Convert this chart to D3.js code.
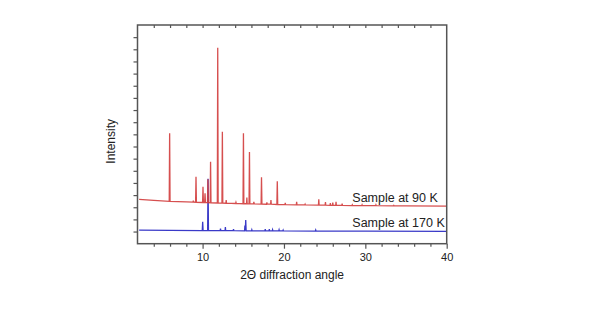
<!DOCTYPE html>
<html>
<head>
<meta charset="utf-8">
<script src="https://cdn.jsdelivr.net/npm/d3@7"></script>
<style>
	body { margin: 0; background: #fff; }
	svg text { font-family: "Liberation Sans", Arial, sans-serif; fill: #222; }
</style>
</head>
<body>
<div id="chart"></div>
<script>
const sample90 = [
	[2.2, 3.65], [4, 3.56],
	[5.9, 3.49], [5.95, 9.09], [6.0, 3.49],
	[8, 3.44],
	[8.82, 3.42], [8.86, 3.55], [8.9, 3.42],
	[9.14, 3.41], [9.19, 5.51], [9.24, 3.41],
	[10.0, 3.39], [10.05, 4.69], [10.1, 3.39],
	[10.25, 3.39], [10.3, 4.15], [10.35, 3.39],
	[10.6, 3.38], [10.65, 5.3], [10.7, 3.38],
	[10.93, 3.37], [10.98, 6.75], [11.03, 3.37],
	[11.81, 3.35], [11.86, 16.13], [11.91, 3.35],
	[12.38, 3.34], [12.43, 9.22], [12.48, 3.34],
	[12.86, 3.33], [12.9, 3.6], [12.94, 3.33],
	[14.06, 3.31], [14.1, 3.4], [14.14, 3.31],
	[14.97, 3.29], [15.02, 9.09], [15.07, 3.29],
	[15.4, 3.29], [15.44, 3.8], [15.48, 3.29],
	[15.71, 3.28], [15.76, 7.55], [15.81, 3.28],
	[16.26, 3.28], [16.3, 3.45], [16.34, 3.28],
	[17.19, 3.26], [17.24, 5.46], [17.29, 3.26],
	[17.86, 3.25], [17.9, 3.4], [17.94, 3.25],
	[18.36, 3.25], [18.4, 3.6], [18.44, 3.25],
	[19.13, 3.23], [19.18, 5.13], [19.23, 3.23],
	[20.12, 3.22], [20.16, 3.35], [20.2, 3.22],
	[21.52, 3.2], [21.56, 3.45], [21.6, 3.2],
	[22.56, 3.19], [22.6, 3.25], [22.64, 3.19],
	[24.24, 3.18], [24.28, 3.65], [24.32, 3.18],
	[25.06, 3.17], [25.1, 3.42], [25.14, 3.17],
	[25.66, 3.16], [25.7, 3.35], [25.74, 3.16],
	[25.96, 3.16], [26.0, 3.38], [26.04, 3.16],
	[26.36, 3.16], [26.4, 3.45], [26.44, 3.16],
	[27.11, 3.15], [27.15, 3.3], [27.19, 3.15],
	[28.36, 3.14], [28.4, 3.2], [28.44, 3.14],
	[29.56, 3.13], [29.6, 3.2], [29.64, 3.13],
	[31.26, 3.13], [31.3, 3.2], [31.34, 3.13],
	[33.46, 3.12], [33.5, 3.16], [33.54, 3.12],
	[35, 3.11], [40, 3.1]
]

const sample170 = [
	[2.2, 1.12], [6, 1.1],
	[9.96, 1.08], [10.01, 1.81], [10.06, 1.08],
	[10.62, 1.08], [10.67, 5.35], [10.72, 1.08],
	[12.16, 1.07], [12.2, 1.25], [12.24, 1.07],
	[12.76, 1.07], [12.8, 1.38], [12.84, 1.07],
	[13.76, 1.07], [13.8, 1.2], [13.84, 1.07],
	[15.16, 1.06], [15.2, 1.5], [15.25, 1.06], [15.3, 1.95], [15.35, 1.06],
	[16.01, 1.06], [16.05, 1.15], [16.09, 1.06],
	[17.66, 1.05], [17.7, 1.2], [17.74, 1.05],
	[18.16, 1.05], [18.2, 1.2], [18.24, 1.05],
	[18.56, 1.05], [18.6, 1.15], [18.64, 1.05],
	[19.36, 1.05], [19.4, 1.15], [19.44, 1.05],
	[19.86, 1.05], [19.9, 1.12], [19.94, 1.05],
	[23.86, 1.04], [23.9, 1.12], [23.94, 1.04],
	[30, 1.03], [40, 1.02]
]

const xMajorTicks = [10, 20, 30, 40]
const xMinorTicks = d3.range(4, 40, 2)
const yTicks = d3.range(1, 18)

const labels = [
	{ text: "Sample at 90 K", x: 28.4, y: 3.45 },
	{ text: "Sample at 170 K", x: 28.4, y: 1.4 }
]

const width = 590, height = 324
const plotLeft = 137.5, plotRight = 446.7, plotTop = 25, plotBottom = 243.7

const svg = d3.select("#chart").append("svg").attr("width", width).attr("height", height)

const x = d3.scaleLinear().domain([2, 40]).range([plotLeft, plotRight])
const y = d3.scaleLinear().domain([0, 18]).range([plotBottom, plotTop])

const line = d3.line().x(d => x(d[0])).y(d => y(d[1]))

svg.append("path")
	.datum(sample170)
	.attr("d", line)
	.attr("fill", "none")
	.attr("stroke", "#3a3ac8")
	.attr("stroke-width", 1.3)

svg.append("path")
	.datum(sample90)
	.attr("d", line)
	.attr("fill", "none")
	.attr("stroke", "#d23c3c")
	.attr("stroke-width", 1.3)
	.attr("stroke-opacity", 0.9)

// axes
const axisColor = "#555"

svg.append("g")
	.attr("transform", `translate(0,${plotBottom})`)
	.call(d3.axisBottom(x).tickValues(xMinorTicks.filter(v => v % 10)).tickSize(3).tickFormat("").tickSizeOuter(0))
const bottomMajor = svg.append("g")
	.attr("transform", `translate(0,${plotBottom})`)
	.call(d3.axisBottom(x).tickValues(xMajorTicks).tickSize(5).tickPadding(5).tickSizeOuter(0))
bottomMajor.selectAll("text").style("font-size", "11px").attr("fill", "#222")

svg.append("g")
	.attr("transform", `translate(0,${plotTop})`)
	.call(d3.axisBottom(x).tickValues(xMinorTicks).tickSize(3).tickFormat("").tickSizeOuter(0))

svg.append("g")
	.attr("transform", `translate(${plotLeft},0)`)
	.call(d3.axisLeft(y).tickValues(yTicks).tickSize(4).tickFormat("").tickSizeOuter(0))

svg.selectAll(".domain").remove()
svg.selectAll(".tick line").attr("stroke", axisColor).attr("stroke-width", 1.2)

svg.append("rect")
	.attr("x", plotLeft)
	.attr("y", plotTop)
	.attr("width", plotRight - plotLeft)
	.attr("height", plotBottom - plotTop)
	.attr("fill", "none")
	.attr("stroke", axisColor)
	.attr("stroke-width", 1.5)

svg.selectAll(".series-label")
	.data(labels)
	.enter()
	.append("text")
	.attr("class", "series-label")
	.attr("x", d => x(d.x))
	.attr("y", d => y(d.y))
	.text(d => d.text)
	.style("font-size", "12.5px")

svg.append("text")
	.attr("x", (plotLeft + plotRight) / 2)
	.attr("y", 279)
	.attr("text-anchor", "middle")
	.style("font-size", "12px")
	.text("2\u0398 diffraction angle")

svg.append("text")
	.attr("transform", `translate(115,${(plotTop + plotBottom) / 2 + 7}) rotate(-90)`)
	.attr("text-anchor", "middle")
	.style("font-size", "12px")
	.text("Intensity")
</script>
</body>
</html>
